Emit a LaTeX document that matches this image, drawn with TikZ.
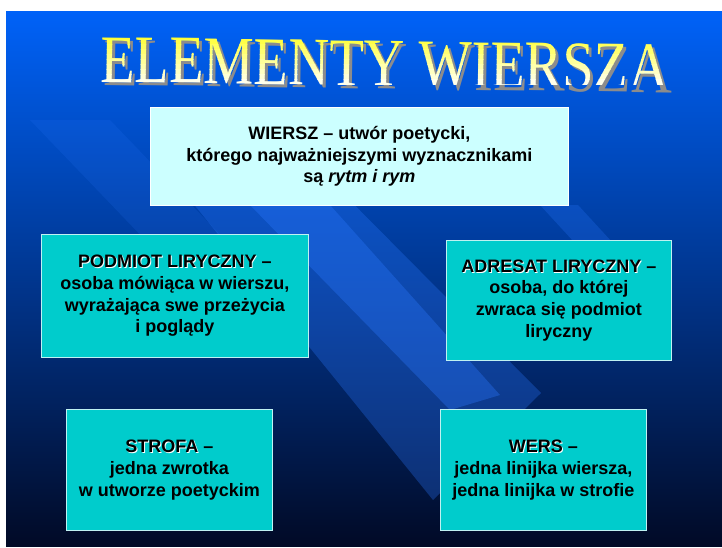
\documentclass[tikz,border=0pt]{standalone}
\usepackage{fontspec}
\setmainfont{Liberation Sans}
\newfontfamily\titlefont{Liberation Serif}
\usetikzlibrary{positioning}

\definecolor{slidetop}{HTML}{0062F8}
\definecolor{slidemid}{HTML}{0A3CBC}
\definecolor{slidebot}{HTML}{010A26}
\definecolor{stripe}{HTML}{2A78FF}
\definecolor{palebox}{HTML}{CCFFFF}
\definecolor{tealbox}{HTML}{00CCCC}
\definecolor{titleyellow}{HTML}{FFFF33}

% black heading with a light edge
\newcommand\embhead[1]{\makebox[0pt][l]{\kern0.9pt\raisebox{-0.9pt}{\textcolor{white}{#1}}}#1}

\tikzset{
  card/.style={draw=white!75!tealbox, line width=0.8pt, fill=tealbox,
    align=center, anchor=north west, inner sep=0pt,
    font=\bfseries\fontsize{18}{21.8}\selectfont},
  titletext/.style={inner sep=0pt, rotate=-0.8,
    font=\titlefont\fontsize{68}{68}\selectfont},
  band/.style={fill=stripe, opacity=#1},
}

\begin{document}
\begin{tikzpicture}[x=1pt, y=-1pt]
  \useasboundingbox (0,0) rectangle (722,547);
  \fill[white] (0,0) rectangle (722,547);
  % slide background
  \shade[top color=slidetop, middle color=slidemid, bottom color=slidebot]
    (6,11) rectangle (722,546);

  % diagonal bands
  \fill[band=0.15] (30,120) -- (110,120) -- (230,245) -- (150,245) -- cycle;
  \fill[band=0.30] (150,150) -- (300,150) -- (541,393) -- (433,500) -- cycle;
  \fill[band=0.35] (250,205) -- (330,205) -- (500,395) -- (450,410) -- cycle;
  \fill[band=0.25] (540,205) -- (578,205) -- (612,242) -- (574,242) -- cycle;

  % title
  \node (titleshadow) [titletext, text=black!45] at (388,67)
    {\scalebox{0.83}[1]{ELEMENTY WIERSZA}};
  \foreach \k in {0,...,9} {
    \pgfmathtruncatemacro\mix{100-\k*10}
    \begin{scope}
      \clip (80,34+\k*5) rectangle (700,39+\k*5);
      \node (title\k) [titletext, text=titleyellow!\mix!white] at (385,64)
        {\scalebox{0.83}[1]{ELEMENTY WIERSZA}};
    \end{scope}
  }

  % boxes
  \node (wiersz) [card, fill=palebox, draw=white, minimum width=418pt, minimum height=98pt]
    at (150,107) {WIERSZ -- utwór poetycki,\\którego najważniejszymi wyznacznikami\\są \textit{rytm i rym}};
  \node (podmiot) [card, minimum width=267pt, minimum height=123pt] at (41,234)
    {\embhead{PODMIOT LIRYCZNY} --\\osoba mówiąca w wierszu,\\wyrażająca swe przeżycia\\i poglądy};
  \node (adresat) [card, minimum width=225pt, minimum height=120pt] at (446,240)
    {\embhead{ADRESAT LIRYCZNY} --\\osoba, do której\\zwraca się podmiot\\liryczny};
  \node (strofa) [card, minimum width=206pt, minimum height=121pt] at (66,409)
    {\embhead{STROFA} --\\jedna zwrotka\\w utworze poetyckim};
  \node (wers) [card, minimum width=206pt, minimum height=121pt] at (440,409)
    {\embhead{WERS} --\\jedna linijka wiersza,\\jedna linijka w strofie};
\end{tikzpicture}
\end{document}
